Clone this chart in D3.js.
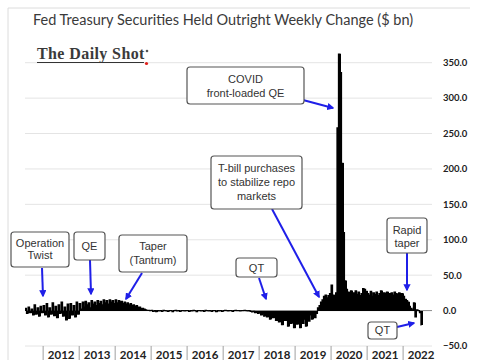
<!DOCTYPE html>
<html><head><meta charset="utf-8">
<script src="https://cdn.jsdelivr.net/npm/d3@7"></script>
<style>body{margin:0;background:#fff}svg{display:block}</style>
</head><body>
<svg id="c" width="485" height="360"></svg>
<script>
// ---- data (semi-monthly weekly-change readings, $ bn) ----
const v2011 = [3, -4, 5, -3, 2, -6, 8, -5, 4, -8, 6, -3]; // Jul-Dec
const v2012 = [7, -6, 10, -9, 4, -5, 11, -7, 6, -10, 8, -4, 12, -8, 5, -13, 9, -11, 10, -6, 7, -9, 12, -5];
const v2013 = [10, 2, 12, 5, 13, 8, 11, 4, 14, 9, 12, 7, 14, 10, 13, 8, 15, 11, 14, 9, 15, 12, 14, 10];
const v2014 = [15, 11, 14, 12, 13, 10, 12, 9, 11, 8, 10, 7, 8, 6, 7, 5, 5, 3, 3, 2, 1, 0.5, 0.5, 0];
const v2015 = [0.5, -1, 0, -1.5, 0, -0.5, 0, -1, 0.5, 0, -0.5, -1, 0, 0, -1.5, 0, 0.5, -0.5, 0, -1, 0, 0, -0.5, 0];
const v2016 = [0, -1, 0, -0.5, 0.5, 0, -1.5, 0, 0, -0.5, 0, -1, 0.5, 0, -0.5, 0, -1, 0, 0, -1.5, 0, -0.5, 0, -1];
const v2017 = [0, 0.5, 0, -0.5, 0, 0, -1, 0, 0.5, 0, 0, -0.5, 0, 0, 0.5, 0, -0.5, 0, -1, -2, -1, -3, -2, -4];
const v2018 = [-3, -6, -4, -8, -5, -9, -6, -12, -7, -10, -8, -14, -9, -16, -8, -20, -10, -14, -9, -22, -11, -18, -10, -24];
const v2019 = [-12, -19, -10, -24, -9, -18, -12, -22, -8, -15, -6, -12, -5, -10, -4, 4, 7, 12, 15, 20, 22, 18, 21, 24];
const v2020 = [36, 22, 18, 25, 258, 362, 336, 208, 110, 42, 30, 26, 24, 28, 22, 25, 28, 23, 26, 21, 24, 31, 30, 27];
const v2021 = [24, 22, 27, 20, 25, 23, 26, 21, 24, 28, 22, 25, 23, 26, 20, 24, 25, 22, 26, 24, 23, 25, 22, 24];
const v2022 = [20, 16, 14, 12, 6, 3, 1, 11, -9, 1, 0, -3, -21]; // Jan-Jun
const yearLabels = ["2012","2013","2014","2015","2016","2017","2018","2019","2020","2021","2022"];
const yTicks = [-50, 0, 50, 100, 150, 200, 250, 300, 350];
const title = "Fed Treasury Securities Held Outright Weekly Change ($ bn)";
const notes = [
  {lines:["Operation","Twist"]},
  {lines:["QE"]},
  {lines:["Taper","(Tantrum)"]},
  {lines:["QT"]},
  {lines:["T-bill purchases","to stabilize repo","markets"]},
  {lines:["COVID","front-loaded QE"]},
  {lines:["Rapid","taper"]},
  {lines:["QT"]}
];

// ---- build series ----
const series = [];
function addYear(yr, vals, startMonth) {
  vals.forEach((v, i) => {
    const k = i + startMonth * 2;
    series.push({date: new Date(yr, Math.floor(k / 2), k % 2 ? 16 : 1), value: v});
  });
}
addYear(2011, v2011, 6); addYear(2012, v2012, 0); addYear(2013, v2013, 0);
addYear(2014, v2014, 0); addYear(2015, v2015, 0); addYear(2016, v2016, 0);
addYear(2017, v2017, 0); addYear(2018, v2018, 0); addYear(2019, v2019, 0);
addYear(2020, v2020, 0); addYear(2021, v2021, 0); addYear(2022, v2022, 0);

const svg = d3.select("#c");
const x = d3.scaleTime().domain([new Date(2011, 6, 1), new Date(2022, 9, 1)]).range([25, 430]);
const y = d3.scaleLinear().domain([-50, 350]).range([346, 62.7]);
const plotL = 25, plotR = 432;

// frame
svg.append("line").attr("x1", 8).attr("x2", 470).attr("y1", 8).attr("y2", 8).attr("stroke", "#dcdcdc");
svg.append("line").attr("x1", 8).attr("x2", 8).attr("y1", 8).attr("y2", 360).attr("stroke", "#dcdcdc");

// title
svg.append("text").attr("x", 33).attr("y", 25).attr("font-family", "Lato, sans-serif")
  .attr("font-size", 14.5).attr("fill", "#3a3a3a").text(title);

// gridlines
svg.append("g").selectAll("line").data(yTicks.filter(d => d !== 0)).join("line")
  .attr("x1", plotL).attr("x2", plotR).attr("y1", d => y(d)).attr("y2", d => y(d))
  .attr("stroke", "#e4e4e4").attr("stroke-width", 1);

// y labels
svg.append("g").selectAll("text").data(yTicks).join("text")
  .attr("x", 443).attr("y", d => y(d)).attr("dy", "0.35em")
  .attr("font-family", "Lato, sans-serif").attr("font-weight", "bold").attr("font-size", 9.5)
  .attr("fill", "#222").text(d => d3.format(".1f")(d));

// x axis separators and labels
const yearStarts = d3.range(2012, 2023).map(yr => new Date(yr, 0, 1));
svg.append("g").selectAll("line").data(yearStarts).join("line")
  .attr("x1", d => x(d)).attr("x2", d => x(d)).attr("y1", 346).attr("y2", 360)
  .attr("stroke", "#a0a0a0");
svg.append("g").selectAll("text").data(yearLabels).join("text")
  .attr("x", (d, i) => (x(new Date(+d, 0, 1)) + x(new Date(+d + 1, 0, 1))) / 2)
  .attr("y", 359).attr("text-anchor", "middle")
  .attr("font-family", "Lato, sans-serif").attr("font-weight", "bold").attr("font-size", 11.5)
  .attr("fill", "#222").text(d => d);

// zero line
svg.append("line").attr("x1", plotL).attr("x2", plotR).attr("y1", y(0)).attr("y2", y(0))
  .attr("stroke", "#8a8a8a").attr("stroke-width", 1);

// bars
svg.append("g").attr("shape-rendering", "crispEdges").selectAll("rect").data(series).join("rect")
  .attr("x", d => x(d.date))
  .attr("width", d => x(d3.timeDay.offset(d.date, 15)) - x(d.date) + 0.6)
  .attr("y", d => y(Math.max(0, d.value)))
  .attr("height", d => Math.abs(y(d.value) - y(0)))
  .attr("fill", "#000");
// outline of the bar tops (keeps near-zero weeks visible as a dark line)
svg.append("path").datum(series)
  .attr("d", d3.line().x(d => x(d.date)).y(d => y(d.value)).curve(d3.curveStepAfter))
  .attr("fill", "none").attr("stroke", "#000").attr("stroke-width", 1.2);

// logo
const logo = svg.append("g");
logo.append("text").attr("x", 37).attr("y", 59).attr("font-family", "'Liberation Serif', serif")
  .attr("font-size", 16).attr("font-weight", "bold").attr("fill", "#3a3a3a").attr("letter-spacing", 0.4)
  .text("The Daily Shot");
logo.append("line").attr("x1", 37).attr("x2", 144).attr("y1", 62.5).attr("y2", 62.5).attr("stroke", "#333").attr("stroke-width", 1);
logo.append("circle").attr("cx", 147).attr("cy", 51).attr("r", 1.3).attr("fill", "#555");
logo.append("circle").attr("cx", 146.5).attr("cy", 63.5).attr("r", 1.6).attr("fill", "#e0201a");

// annotations
const defs = svg.append("defs");
defs.append("marker").attr("id", "ah").attr("viewBox", "0 0 10 10").attr("refX", 8).attr("refY", 5)
  .attr("markerWidth", 3.6).attr("markerHeight", 3.6).attr("orient", "auto")
  .append("path").attr("d", "M0,0L10,5L0,10z").attr("fill", "#1f1fe8");

const boxes = [
  {x:11, y:232, w:58, h:35, base:[247,259], a:[42,268,43,296]},
  {x:74, y:232, w:31, h:28, base:[250], a:[90,260,91,294]},
  {x:119, y:235, w:68, h:37, base:[250,264], a:[142,273,126,299]},
  {x:236, y:258, w:41, h:19, base:[272], a:[259,278,266,299]},
  {x:211, y:156, w:91, h:53, base:[172,186,200], a:[272,209,319,297]},
  {x:187, y:67, w:117, h:37, base:[83,97], a:[303,100,333,108]},
  {x:387, y:218, w:40, h:35, base:[234,247], a:[407,253,407,290]},
  {x:368, y:322, w:29, h:17, base:[334], a:[397,327,414,323]}
];
boxes.forEach((b, i) => {
  const g = svg.append("g");
  g.append("line").attr("x1", b.a[0]).attr("y1", b.a[1]).attr("x2", b.a[2]).attr("y2", b.a[3])
    .attr("stroke", "#1f1fe8").attr("stroke-width", 2).attr("marker-end", "url(#ah)");
  g.append("rect").attr("x", b.x).attr("y", b.y).attr("width", b.w).attr("height", b.h)
    .attr("rx", 3).attr("fill", "#fff").attr("stroke", "#555").attr("stroke-width", 1.2);
  notes[i].lines.forEach((t, j) => {
    g.append("text").attr("x", b.x + b.w / 2).attr("y", b.base[j]).attr("text-anchor", "middle")
      .attr("font-family", "'Liberation Sans', Arial, sans-serif").attr("font-size", 11)
      .attr("fill", "#333").text(t);
  });
});
</script>
</body></html>
